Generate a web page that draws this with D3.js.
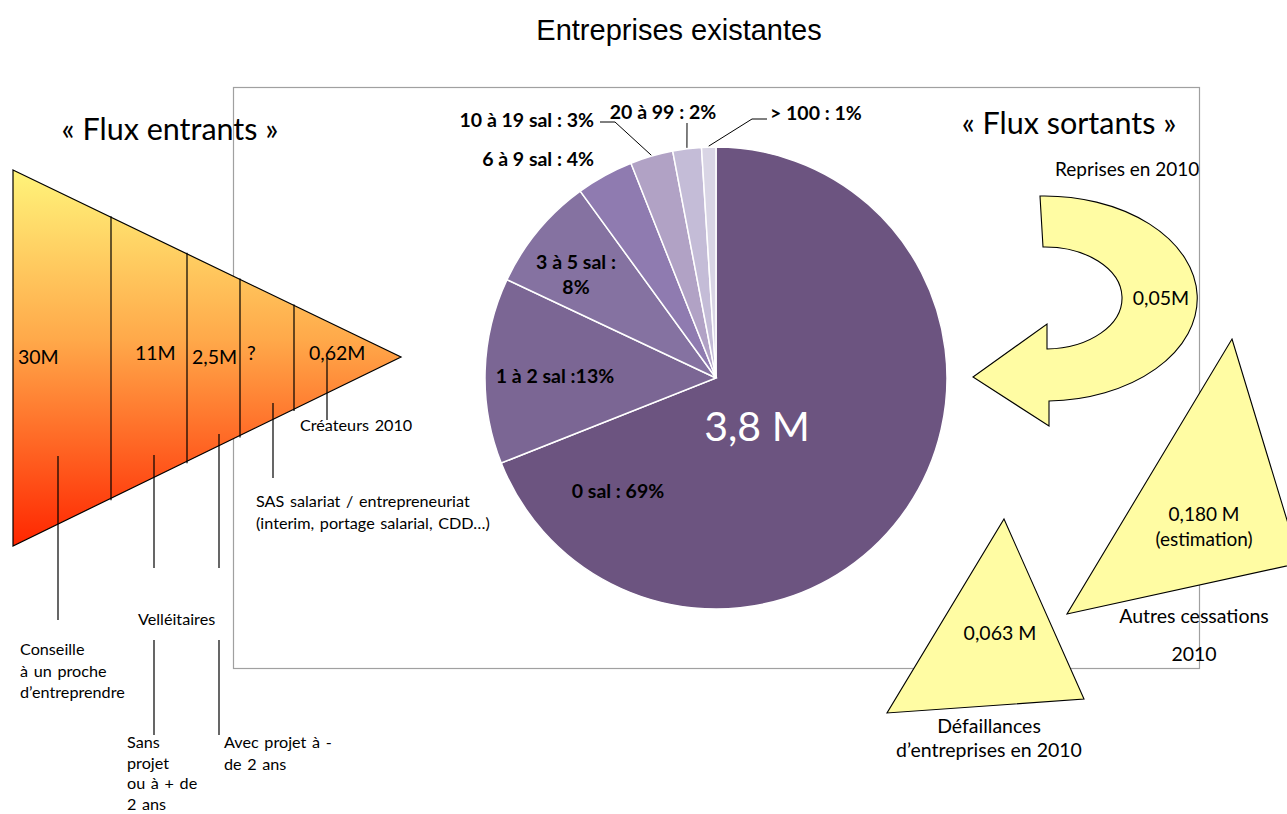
<!DOCTYPE html>
<html>
<head>
<meta charset="utf-8">
<script src="https://cdn.jsdelivr.net/npm/d3@7"></script>
<style>
  body { margin: 0; background: #fff; }
  text { font-family: Lato, "Open Sans", sans-serif; }
</style>
</head>
<body>
<svg id="chart" width="1287" height="814"></svg>
<script>
// Pie: existing companies by size
const pieCategories = ['0 sal', '1 à 2 sal', '3 à 5 sal', '6 à 9 sal', '10 à 19 sal', '20 à 99', '> 100'];
const pieShares = [69, 13, 8, 4, 3, 2, 1];
const pieLabels = ['0 sal : 69%', '1 à 2 sal :13%', '3 à 5 sal :|8%', '6 à 9 sal : 4%', '10 à 19 sal : 3%', '20 à 99 : 2%', '> 100 : 1%'];
const pieTotal = '3,8 M';

// Funnel: incoming flows
const funnelValues = ['30M', '11M', '2,5M', '?', '0,62M'];
const funnelSteps = [0, 1, 2, 3, 4, 5];

// Outgoing flows
const repriseValue = '0,05M';
const cessationValue = ['0,180 M', '(estimation)'];
const defaillanceValue = '0,063 M';

const svg = d3.select('#chart');
const pieColors = ['#6c5480', '#7b6694', '#8572a1', '#8f7bb0', '#b1a2c5', '#c4bcd7', '#d9d5e5'];

// Title
svg.append('text')
    .attr('x', 679).attr('y', 40)
    .attr('text-anchor', 'middle')
    .style('font-family', '"Liberation Sans", Arial, sans-serif')
    .attr('font-size', 29)
    .text('Entreprises existantes');

// frame around the chart area
svg.append('rect')
    .attr('x', 233.5).attr('y', 87.5)
    .attr('width', 966).attr('height', 581)
    .attr('fill', 'none')
    .attr('stroke', '#a0a0a0')
    .attr('stroke-width', 1.2);

// ---------------- Pie ----------------
const cx = 716, cy = 378, radius = 231;
const pie = d3.pie().sort(null).value(d => d)(pieShares);
const arc = d3.arc().innerRadius(0).outerRadius(radius);

const pg = svg.append('g').attr('transform', `translate(${cx},${cy})`);
pg.selectAll('path')
    .data(pie)
    .enter()
    .append('path')
    .attr('d', arc)
    .attr('fill', (d, i) => pieColors[i])
    .attr('stroke', '#fff')
    .attr('stroke-width', 1.5);

pg.append('text')
    .attr('x', 41).attr('y', 63)
    .attr('text-anchor', 'middle')
    .attr('fill', '#fff')
    .attr('font-size', 41)
    .text(pieTotal);

// label positions (absolute) and leader lines for the small slices
const labelPos = [
    { x: 618, y: 498, anchor: 'middle' },
    { x: 555, y: 383, anchor: 'middle' },
    { x: 576, y: 269, anchor: 'middle' },
    { x: 594, y: 166, anchor: 'end' },
    { x: 594, y: 127, anchor: 'end' },
    { x: 663, y: 119, anchor: 'middle' },
    { x: 770, y: 120, anchor: 'start' }
];
const leaders = [
    null, null, null, null,
    [[600, 122], [615, 122]],
    [[687, 123], [687, 123]],
    [[767, 119], [752, 119]]
];

pie.forEach((d, i) => {
    const p = labelPos[i];
    const lines = pieLabels[i].split('|');
    const t = svg.append('text')
        .attr('x', p.x).attr('y', p.y)
        .attr('text-anchor', p.anchor)
        .attr('font-size', 19.5)
        .attr('font-weight', 'bold')
        .attr('fill', '#000');
    lines.forEach((l, k) => {
        t.append('tspan').attr('x', p.x).attr('dy', k ? 25 : 0).text(l);
    });
    if (leaders[i]) {
        const a = (d.startAngle + d.endAngle) / 2;
        const edge = [cx + Math.sin(a) * (radius + 1), cy - Math.cos(a) * (radius + 1)];
        svg.append('polyline')
            .attr('points', [...leaders[i], edge].map(q => q.join(',')).join(' '))
            .attr('fill', 'none')
            .attr('stroke', '#000')
            .attr('stroke-width', 1);
    }
});

// ---------------- Funnel ----------------
svg.append('text')
    .attr('x', 170).attr('y', 140)
    .attr('text-anchor', 'middle')
    .attr('font-size', 30.5)
    .text('« Flux entrants »');

const defs = svg.append('defs');
const grad = defs.append('linearGradient')
    .attr('id', 'funnelGrad')
    .attr('x1', 0).attr('y1', 0).attr('x2', 0).attr('y2', 1);
grad.append('stop').attr('offset', '0%').attr('stop-color', '#fff47a');
grad.append('stop').attr('offset', '45%').attr('stop-color', '#ffa94a');
grad.append('stop').attr('offset', '100%').attr('stop-color', '#ff2600');

const fLeft = 13, fTop = 170, fBottom = 546, fTipX = 401, fTipY = 357;
const topEdge = d3.scaleLinear().domain([fLeft, fTipX]).range([fTop, fTipY]);
const botEdge = d3.scaleLinear().domain([fLeft, fTipX]).range([fBottom, fTipY]);
// divider positions along the funnel
const stepX = d3.scaleOrdinal().domain(funnelSteps).range([13, 111, 187, 240, 294, 401]);

svg.append('path')
    .attr('d', `M${fLeft},${fTop} L${fTipX},${fTipY} L${fLeft},${fBottom} Z`)
    .attr('fill', 'url(#funnelGrad)')
    .attr('stroke', '#000')
    .attr('stroke-width', 1.2);

funnelSteps.slice(1, 5).forEach(s => {
    const x = stepX(s);
    svg.append('line')
        .attr('x1', x).attr('x2', x)
        .attr('y1', topEdge(x) - 1).attr('y2', botEdge(x) + 2)
        .attr('stroke', '#000').attr('stroke-width', 1.2);
});

const valuePos = [[18, 364], [135, 360], [192, 364], [247, 360], [309, 360]];
funnelValues.forEach((v, i) => {
    svg.append('text')
        .attr('x', valuePos[i][0]).attr('y', valuePos[i][1])
        .attr('font-size', 19.5)
        .text(v);
});

// leader lines + annotations below the funnel
const fLines = [
    [58, 456, 620], [154, 455, 568], [154, 640, 735],
    [219, 434, 568], [219, 640, 735], [273, 403, 478], [327, 358, 420]
];
fLines.forEach(l => {
    svg.append('line')
        .attr('x1', l[0]).attr('x2', l[0])
        .attr('y1', l[1]).attr('y2', l[2])
        .attr('stroke', '#000').attr('stroke-width', 1.2);
});

const notes = [
    { x: 20, y: 655, lines: ['Conseille', 'à un proche', 'd\u2019entreprendre'], lh: 21.5 },
    { x: 138, y: 625, lines: ['Velléitaires'], lh: 22 },
    { x: 127, y: 748, lines: ['Sans', 'projet', 'ou à + de', '2 ans'], lh: 20.5 },
    { x: 224, y: 748, lines: ['Avec projet à -', 'de 2 ans'], lh: 21.5 },
    { x: 256, y: 507, lines: ['SAS salariat / entrepreneuriat', '(interim, portage salarial, CDD\u2026)'], lh: 22 },
    { x: 300, y: 431, lines: ['Créateurs 2010'], lh: 22 }
];
notes.forEach(n => {
    const t = svg.append('text').attr('font-size', 16.2).attr('word-spacing', 1.5);
    n.lines.forEach((l, k) => {
        t.append('tspan').attr('x', n.x).attr('y', n.y + k * n.lh).text(l);
    });
});

// ---------------- Outgoing flows ----------------
svg.append('text')
    .attr('x', 1069).attr('y', 134)
    .attr('text-anchor', 'middle')
    .attr('font-size', 30.5)
    .text('« Flux sortants »');

const yellow = '#fffca3';

// U-turn arrow (reprises)
svg.append('path')
    .attr('d', [
        `M1040,196`,
        `A152,102 0 0 1 1049,401`,
        `L1049,426 L973,377 L1047,324 L1047,349`,
        `A77,51 0 0 0 1043,247`,
        'Z'
    ].join(' '))
    .attr('fill', yellow)
    .attr('stroke', '#000')
    .attr('stroke-width', 1.1);

svg.append('text')
    .attr('x', 1055).attr('y', 176)
    .attr('font-size', 19)
    .text('Reprises en 2010');
svg.append('text')
    .attr('x', 1161).attr('y', 305)
    .attr('text-anchor', 'middle')
    .attr('font-size', 19.5)
    .text(repriseValue);

// Autres cessations triangle
svg.append('path')
    .attr('d', 'M1232,339 L1300,563 L1067,614 Z')
    .attr('fill', yellow)
    .attr('stroke', '#000')
    .attr('stroke-width', 1.1);
cessationValue.forEach((v, k) => {
    svg.append('text')
        .attr('x', 1204).attr('y', 521 + k * 25)
        .attr('text-anchor', 'middle')
        .attr('font-size', 19)
        .text(v);
});
svg.append('text')
    .attr('x', 1194).attr('y', 623)
    .attr('text-anchor', 'middle')
    .attr('font-size', 19.5)
    .text('Autres cessations');
svg.append('text')
    .attr('x', 1194).attr('y', 661)
    .attr('text-anchor', 'middle')
    .attr('font-size', 19.5)
    .text('2010');

// Défaillances triangle
svg.append('path')
    .attr('d', 'M1004,519 L1084,699 L887,713 Z')
    .attr('fill', yellow)
    .attr('stroke', '#000')
    .attr('stroke-width', 1.1);
svg.append('text')
    .attr('x', 1000).attr('y', 640)
    .attr('text-anchor', 'middle')
    .attr('font-size', 19.5)
    .text(defaillanceValue);
svg.append('text')
    .attr('x', 989).attr('y', 733)
    .attr('text-anchor', 'middle')
    .attr('font-size', 19.5)
    .text('Défaillances');
svg.append('text')
    .attr('x', 989).attr('y', 757)
    .attr('text-anchor', 'middle')
    .attr('font-size', 19.5)
    .text('d\u2019entreprises en 2010');
</script>
</body>
</html>
